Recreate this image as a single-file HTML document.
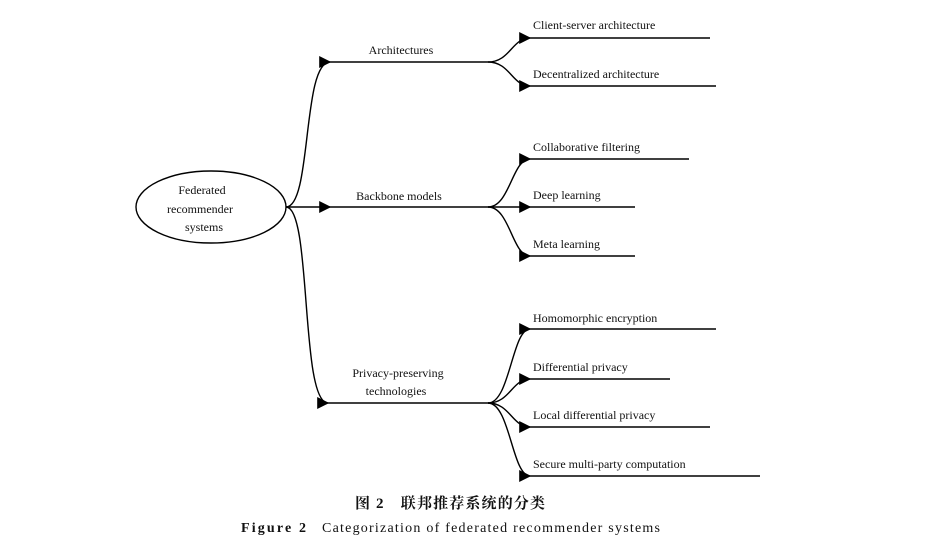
<!DOCTYPE html>
<html><head><meta charset="utf-8"><style>
body{margin:0;background:#fff;width:936px;height:548px;overflow:hidden}
svg text{font-family:"Liberation Serif","Noto Serif CJK SC",serif;fill:#111}
</style></head><body>
<svg width="936" height="548" viewBox="0 0 936 548" xmlns="http://www.w3.org/2000/svg">
<defs><marker id="a" viewBox="0 0 10 10" refX="9" refY="5" markerWidth="12" markerHeight="12" markerUnits="userSpaceOnUse" orient="auto"><path d="M0,0L10,5L0,10z" fill="#000"/></marker></defs>
<g stroke="#000" stroke-width="1.4" fill="none">
<ellipse cx="211" cy="207" rx="75" ry="36"/>
<path d="M286,207 C312,207 302,62 330,62" marker-end="url(#a)"/>
<path d="M286,207 L330,207" marker-end="url(#a)"/>
<path d="M286,207 C312,207 300,403 328,403" marker-end="url(#a)"/>
<line x1="330" y1="62" x2="488" y2="62"/>
<line x1="330" y1="207" x2="488" y2="207"/>
<line x1="328" y1="403" x2="488" y2="403"/>
<path d="M488,62 C510,62 512,38 530,38" marker-end="url(#a)"/>
<path d="M488,62 C510,62 512,86 530,86" marker-end="url(#a)"/>
<path d="M488,207 C510,207 512,159 530,159" marker-end="url(#a)"/>
<path d="M488,207 L530,207" marker-end="url(#a)"/>
<path d="M488,207 C510,207 512,256 530,256" marker-end="url(#a)"/>
<path d="M488,403 C510,403 512,329 530,329" marker-end="url(#a)"/>
<path d="M488,403 C510,403 512,379 530,379" marker-end="url(#a)"/>
<path d="M488,403 C510,403 512,427 530,427" marker-end="url(#a)"/>
<path d="M488,403 C510,403 512,476 530,476" marker-end="url(#a)"/>
<line x1="530" y1="38" x2="710" y2="38"/>
<line x1="530" y1="86" x2="716" y2="86"/>
<line x1="530" y1="159" x2="689" y2="159"/>
<line x1="530" y1="207" x2="635" y2="207"/>
<line x1="530" y1="256" x2="635" y2="256"/>
<line x1="530" y1="329" x2="716" y2="329"/>
<line x1="530" y1="379" x2="670" y2="379"/>
<line x1="530" y1="427" x2="710" y2="427"/>
<line x1="530" y1="476" x2="760" y2="476"/>
</g>
<g font-size="12">
<text x="202" y="194" text-anchor="middle">Federated</text>
<text x="200" y="213" text-anchor="middle">recommender</text>
<text x="204" y="231" text-anchor="middle">systems</text>
<text x="401" y="54" text-anchor="middle">Architectures</text>
<text x="399" y="200" text-anchor="middle">Backbone models</text>
<text x="398" y="377" text-anchor="middle">Privacy-preserving</text>
<text x="396" y="395" text-anchor="middle">technologies</text>
<text x="533" y="29">Client-server architecture</text>
<text x="533" y="78">Decentralized architecture</text>
<text x="533" y="151">Collaborative filtering</text>
<text x="533" y="199">Deep learning</text>
<text x="533" y="248">Meta learning</text>
<text x="533" y="322">Homomorphic encryption</text>
<text x="533" y="371">Differential privacy</text>
<text x="533" y="419">Local differential privacy</text>
<text x="533" y="468">Secure multi-party computation</text>
</g>
<text x="355" y="508" font-size="15" font-weight="bold" textLength="190" lengthAdjust="spacing">图 2　联邦推荐系统的分类</text>
<text x="241" y="532" font-size="14" font-weight="bold" textLength="65" lengthAdjust="spacing">Figure 2</text>
<text x="322" y="532" font-size="14" textLength="338" lengthAdjust="spacing">Categorization of federated recommender systems</text>
</svg>
</body></html>
